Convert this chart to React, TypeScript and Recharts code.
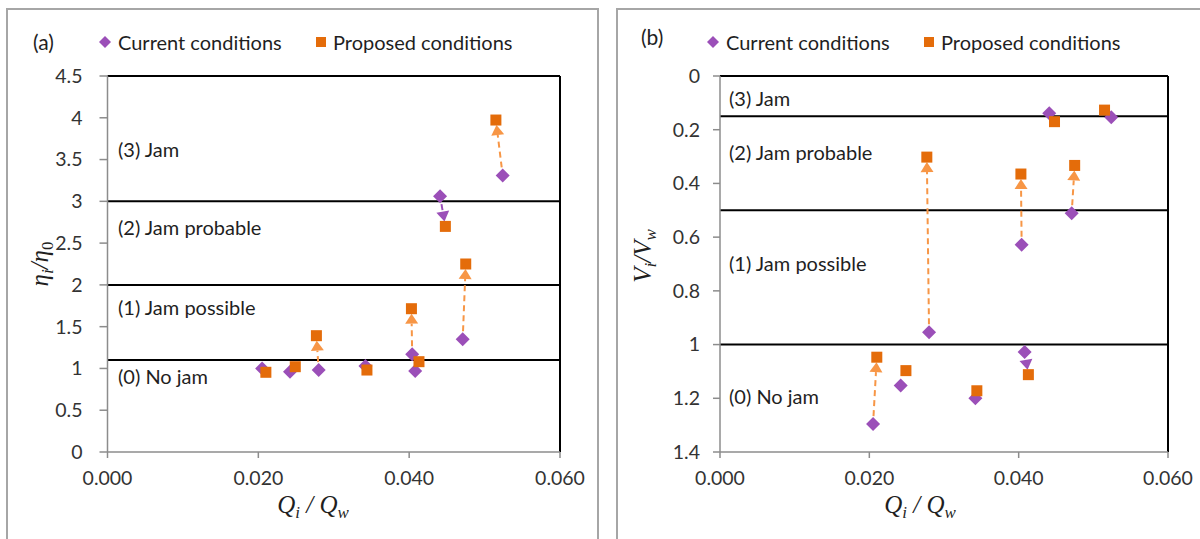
import { ScatterChart, Scatter, XAxis, YAxis, ReferenceLine } from "recharts";
import { CSSProperties } from "react";

// x ticks / y ticks
const qTicks = [0, 0.02, 0.04, 0.06];
const etaTicks = [0, 0.5, 1, 1.5, 2, 2.5, 3, 3.5, 4, 4.5];
const velTicks = [0, 0.2, 0.4, 0.6, 0.8, 1, 1.2, 1.4];

// current conditions (diamonds)
const currentQ = [0.0205, 0.0242, 0.028, 0.0342, 0.0404, 0.0408, 0.0441, 0.0471, 0.0524];
const currentEta = [1.0, 0.96, 0.98, 1.03, 1.17, 0.97, 3.06, 1.35, 3.31];
const currentVel = [1.296, 1.152, 0.954, 1.2, 0.628, 1.028, 0.139, 0.511, 0.154];

// proposed conditions (squares)
const proposedQ = [0.021, 0.0249, 0.0277, 0.0344, 0.0403, 0.0413, 0.0448, 0.0475, 0.0515];
const proposedEta = [0.954, 1.021, 1.392, 0.981, 1.715, 1.081, 2.7, 2.25, 3.973];
const proposedVel = [1.047, 1.097, 0.302, 1.172, 0.365, 1.112, 0.17, 0.333, 0.127];

// which current -> proposed pairs get an arrow
const arrowsEta = [2, 4, 6, 7, 8];
const arrowsVel = [0, 2, 4, 5, 7];

// region boundaries
const etaLimits = [1.1, 2, 3];
const velLimits = [0.15, 0.5, 1];

const PURPLE = "#9b4fb8";
const ORANGE = "#e46c0a";
const ARROW_ORANGE = "#f79646";
const GRAY = "#8c8c8c";
const TEXT = "#1f1f1f";
const FONT = "Lato, 'Open Sans', sans-serif";

const Diamond = (props: any) => {
    const {cx, cy} = props;
    const r = 7;
    return <polygon points={`${cx},${cy - r} ${cx + r},${cy} ${cx},${cy + r} ${cx - r},${cy}`} fill={PURPLE}/>;
};

const Square = (props: any) => {
    const {cx, cy} = props;
    return <rect x={cx - 5.5} y={cy - 5.5} width={11} height={11} fill={ORANGE}/>;
};

const arrowShape = (color: string) => (props: any) => {
    const {x1, y1, x2, y2} = props;
    const dx = x2 - x1;
    const dy = y2 - y1;
    const len = Math.hypot(dx, dy) || 1;
    const ux = dx / len;
    const uy = dy / len;
    const sx = x1 + ux * 8;
    const sy = y1 + uy * 8;
    const tx = x2 - ux * 5;
    const ty = y2 - uy * 5;
    const bx = tx - ux * 10;
    const by = ty - uy * 10;
    const px = -uy * 6.5;
    const py = ux * 6.5;
    return (
        <g>
            <line x1={sx} y1={sy} x2={bx} y2={by} stroke={color} strokeWidth={2} strokeDasharray="6 4"/>
            <polygon points={`${tx},${ty} ${bx + px},${by + py} ${bx - px},${by - py}`} fill={color}/>
        </g>
    );
};

const toPoints = (xs: number[], ys: number[]) => xs.map((q, i) => ({q, v: ys[i]}));

const tickStyle = {fill: "#333", fontSize: 19.5, fontFamily: FONT};

interface PanelProps {
    current: number[];
    proposed: number[];
    arrows: number[];
    limits: number[];
    ticks: number[];
    reversed: boolean;
    width: number;
    yAxisWidth: number;
    right: number;
    tickSize: number;
    tickMargin: number;
}

const Panel = ({current, proposed, arrows, limits, ticks, reversed, width, yAxisWidth, right, tickSize, tickMargin}: PanelProps) => {
    const top = reversed ? ticks[0] : ticks[ticks.length - 1];
    return (
        <ScatterChart width={width} height={539} margin={{top: 76, right, bottom: 37, left: 0}}>
            <XAxis type="number" dataKey="q" domain={[0, 0.06]} ticks={qTicks}
                   tickFormatter={(v: number) => v.toFixed(3)} height={50}
                   axisLine={{stroke: GRAY, strokeWidth: 1.5}} tickLine={{stroke: GRAY, strokeWidth: 1.5}}
                   tickSize={6} tickMargin={13} tick={tickStyle}/>
            <YAxis type="number" dataKey="v" domain={[ticks[0], ticks[ticks.length - 1]]} ticks={ticks}
                   reversed={reversed} width={yAxisWidth}
                   axisLine={{stroke: GRAY, strokeWidth: 1.5}} tickLine={{stroke: GRAY, strokeWidth: 1.5}}
                   tickSize={tickSize} tickMargin={tickMargin} tick={tickStyle}/>
            <ReferenceLine y={top} stroke="#000" strokeWidth={2}/>
            <ReferenceLine x={0.06} stroke="#000" strokeWidth={2}/>
            {limits.map(l => <ReferenceLine key={l} y={l} stroke="#000" strokeWidth={2}/>)}
            <Scatter data={toPoints(currentQ, current)} shape={Diamond} isAnimationActive={false}/>
            <Scatter data={toPoints(proposedQ, proposed)} shape={Square} isAnimationActive={false}/>
            {arrows.map(i => {
                const up = reversed ? proposed[i] < current[i] : proposed[i] > current[i];
                return (
                    <ReferenceLine key={"a" + i}
                                   segment={[{x: currentQ[i], y: current[i]}, {x: proposedQ[i], y: proposed[i]}]}
                                   shape={arrowShape(up ? ARROW_ORANGE : PURPLE)}/>
                );
            })}
        </ScatterChart>
    );
};

const txt = (left: number, top: number, extra?: CSSProperties): CSSProperties => ({
    position: "absolute", left, top, transform: "translateY(-50%)", whiteSpace: "nowrap",
    fontFamily: FONT, fontSize: 20, color: TEXT, lineHeight: "24px", ...extra
});

const mathStyle: CSSProperties = {fontFamily: "'Liberation Serif', serif", fontStyle: "italic", fontSize: 25, color: TEXT};
const sub: CSSProperties = {fontSize: 17, verticalAlign: "-5px", lineHeight: 0};
const subUp: CSSProperties = {...sub, fontStyle: "normal"};

const Legend = ({left, letter, letterTop}: {left: number; letter: string; letterTop: number}) => (
    <>
        <div style={txt(left, letterTop, {fontSize: 21})}>{letter}</div>
        <svg style={{position: "absolute", left: left + 65, top: 35}} width={14} height={14}>
            <polygon points="7,1 13,7 7,13 1,7" fill={PURPLE}/>
        </svg>
        <div style={txt(left + 85, 42)}>Current conditions</div>
        <svg style={{position: "absolute", left: left + 282, top: 36}} width={12} height={12}>
            <rect x={1} y={1} width={10} height={10} fill={ORANGE}/>
        </svg>
        <div style={txt(left + 300, 42)}>Proposed conditions</div>
    </>
);

const App = () => (
    <div style={{position: "absolute", left: 0, top: 0, width: 1200, height: 539, overflow: "hidden", background: "#fff"}}>
        <div style={{position: "absolute", left: 6, top: 8, width: 589, height: 600, border: "2px solid #a6a6a6"}}/>
        <div style={{position: "absolute", left: 616, top: 8, width: 600, height: 600, border: "2px solid #a6a6a6"}}/>

        <div style={{position: "absolute", left: 0, top: 0}}>
            <Panel current={currentEta} proposed={proposedEta} arrows={arrowsEta} limits={etaLimits}
                   ticks={etaTicks} reversed={false} width={600} yAxisWidth={107.5} right={40}
                   tickSize={8} tickMargin={17}/>
        </div>
        <div style={{position: "absolute", left: 612, top: 0}}>
            <Panel current={currentVel} proposed={proposedVel} arrows={arrowsVel} limits={velLimits}
                   ticks={velTicks} reversed={true} width={588} yAxisWidth={108} right={32}
                   tickSize={7} tickMargin={13}/>
        </div>

        <Legend left={33} letter="(a)" letterTop={42}/>
        <Legend left={641} letter="(b)" letterTop={37}/>

        <div style={txt(118, 149)}>(3) Jam</div>
        <div style={txt(118, 227)}>(2) Jam probable</div>
        <div style={txt(118, 307)}>(1) Jam possible</div>
        <div style={txt(118, 376)}>(0) No jam</div>

        <div style={txt(729, 98)}>(3) Jam</div>
        <div style={txt(729, 152)}>(2) Jam probable</div>
        <div style={txt(729, 263)}>(1) Jam possible</div>
        <div style={txt(729, 396)}>(0) No jam</div>

        <div style={{position: "absolute", left: 313, top: 505, transform: "translate(-50%, -50%)", whiteSpace: "nowrap", ...mathStyle}}>
            Q<span style={sub}>i</span> / Q<span style={sub}>w</span>
        </div>
        <div style={{position: "absolute", left: 920, top: 505, transform: "translate(-50%, -50%)", whiteSpace: "nowrap", ...mathStyle}}>
            Q<span style={sub}>i</span> / Q<span style={sub}>w</span>
        </div>
        <div style={{position: "absolute", left: 40, top: 264, transform: "translate(-50%, -50%) rotate(-90deg)", whiteSpace: "nowrap", ...mathStyle}}>
            η<span style={sub}>i</span>/η<span style={subUp}>0</span>
        </div>
        <div style={{position: "absolute", left: 643, top: 256, transform: "translate(-50%, -50%) rotate(-90deg)", whiteSpace: "nowrap", ...mathStyle}}>
            V<span style={sub}>i</span>/V<span style={sub}>w</span>
        </div>
    </div>
);

export default App;
